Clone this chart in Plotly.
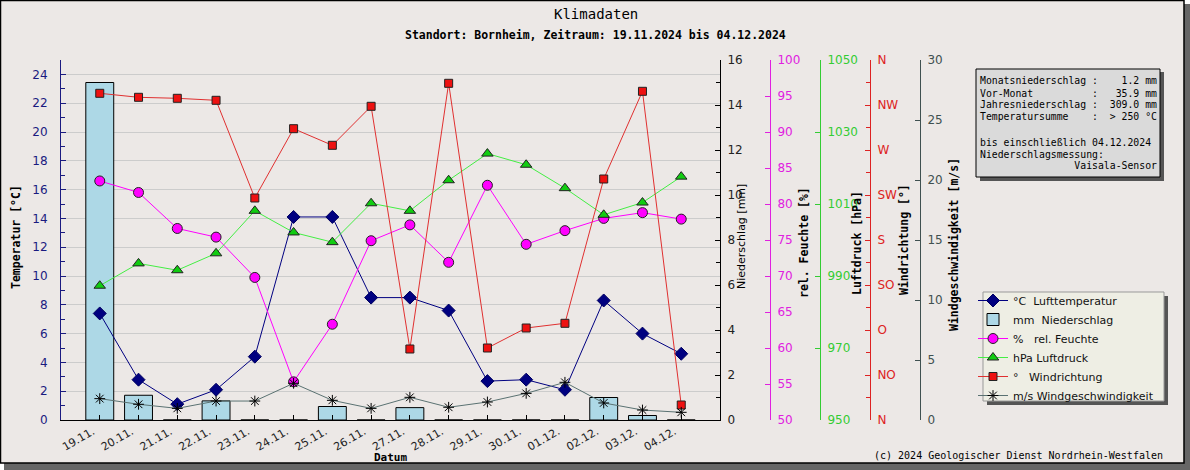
import plotly.graph_objects as go

# ── Data ──────────────────────────────────────────────────────────────────────
dates = ["19.11.", "20.11.", "21.11.", "22.11.", "23.11.", "24.11.", "25.11.", "26.11.",
         "27.11.", "28.11.", "29.11.", "30.11.", "01.12.", "02.12.", "03.12.", "04.12."]
temperature = [7.4, 2.8, 1.1, 2.1, 4.4, 14.1, 14.1, 8.5, 8.5, 7.6, 2.7, 2.8, 2.1, 8.3, 6.0, 4.6]
precip = [15.0, 1.1, 0.0, 0.85, 0.0, 0.0, 0.6, 0.0, 0.55, 0.0, 0.0, 0.0, 0.0, 1.0, 0.2, 0.0]
humidity = [83.2, 81.6, 76.6, 75.4, 69.8, 55.3, 63.3, 74.9, 77.1, 71.9, 82.6, 74.4, 76.3, 78.0, 78.8, 77.9]
pressure = [987.3, 993.5, 991.6, 996.3, 1008.1, 1002.1, 999.4, 1010.2, 1008.1, 1016.6,
            1024.0, 1020.9, 1014.4, 1007.0, 1010.4, 1017.6]
wind_dir = [326.7, 322.7, 321.7, 319.7, 222, 291.3, 274.7, 313.7, 71, 336.7, 72, 92, 96.7, 241, 328.7, 15]
wind_speed = [1.78, 1.31, 0.97, 1.58, 1.58, 3.06, 1.64, 0.97, 1.89, 1.06, 1.5, 2.22, 3.14, 1.42, 0.83, 0.64]

dir_vals = [0, 45, 90, 135, 180, 225, 270, 315, 360]
dir_text = ["N", "NO", "O", "SO", "S", "SW", "W", "NW", "N"]

info_lines = [
    "Monatsniederschlag :    1.2 mm",
    "Vor-Monat          :   35.9 mm",
    "Jahresniederschlag :  309.0 mm",
    "Temperatursumme    :  > 250 °C",
    "",
    "bis einschließlich 04.12.2024",
    "Niederschlagsmessung:",
    "                Vaisala-Sensor",
]

W, H = 1190, 470
xs = list(range(len(dates)))


def px(x):
    return x / W


def py(y):
    return 1 - y / H


def nb(s):
    return s.replace(" ", "\u00a0")


MONO = "DejaVu Sans Mono"
SANS = "DejaVu Sans"
NAVY = "#1a1a80"
MAG = "#e020e0"
GRN = "#33cc33"
RED = "#dd2222"
SLATE = "#3f5050"

fig = go.Figure()

# ── Temperature ───────────────────────────────────────────────────────────────
fig.add_trace(go.Scatter(
    x=xs, y=temperature, yaxis="y2", name=nb("°C  Lufttemperatur"),
    mode="lines+markers",
    line=dict(color="#000080", width=1),
    marker=dict(symbol="diamond", size=10, color="#000080", line=dict(color="#000060", width=1)),
))

# ── Precipitation bars (base subplot so they sit below everything) ────────────
fig.add_trace(go.Bar(
    x=xs, y=precip, yaxis="y", name=nb("mm  Niederschlag"),
    width=0.72,
    marker=dict(color="#add8e6", line=dict(color="black", width=1)),
))

# ── Humidity ──────────────────────────────────────────────────────────────────
fig.add_trace(go.Scatter(
    x=xs, y=humidity, yaxis="y3", name=nb("%   rel. Feuchte"),
    mode="lines+markers",
    line=dict(color="#ff00ff", width=1),
    marker=dict(symbol="circle", size=10, color="#ff00ff", line=dict(color="#222", width=1)),
))

# ── Pressure ──────────────────────────────────────────────────────────────────
fig.add_trace(go.Scatter(
    x=xs, y=pressure, yaxis="y4", name=nb("hPa Luftdruck"),
    mode="lines+markers",
    line=dict(color="#44ee44", width=1),
    marker=dict(symbol="triangle-up", size=10, color="#11cc11", line=dict(color="#222", width=1)),
))

# ── Wind direction ────────────────────────────────────────────────────────────
fig.add_trace(go.Scatter(
    x=xs, y=wind_dir, yaxis="y5", name=nb("°   Windrichtung"),
    mode="lines+markers",
    line=dict(color="#e03030", width=1),
    marker=dict(symbol="square", size=8, color="#ee1111", line=dict(color="#222", width=1)),
))

# ── Wind speed ────────────────────────────────────────────────────────────────
fig.add_trace(go.Scatter(
    x=xs, y=wind_speed, yaxis="y6", name=nb("m/s Windgeschwindigkeit"),
    mode="lines+markers",
    line=dict(color="#5a7272", width=1),
    marker=dict(symbol="asterisk-open", size=9, color="black", line=dict(color="black", width=1)),
))

# ── Axes ──────────────────────────────────────────────────────────────────────
ydom = [py(420), py(60)]


def right_axis(color, rng, pos, **kw):
    d = dict(
        range=rng, overlaying="y", anchor="free", position=pos, side="right",
        showgrid=False, zeroline=False, showline=True, linecolor=color, linewidth=1,
        ticks="inside", ticklen=5, tickcolor=color, ticklabelstandoff=4,
        tickfont=dict(family=SANS, size=12, color=color),
    )
    d.update(kw)
    return d


fig.update_layout(
    width=W, height=H,
    margin=dict(l=0, r=0, t=0, b=0, autoexpand=False),
    paper_bgcolor="white",
    plot_bgcolor="white",
    barmode="overlay",
    showlegend=True,
    xaxis=dict(
        domain=[px(61), px(720)], range=[-1, 16],
        tickmode="array", tickvals=xs, ticktext=dates, tickangle=-30,
        ticks="inside", ticklen=5, tickcolor="black", ticklabelshift=-7,
        showgrid=False, zeroline=False, showline=True, linecolor="black", linewidth=1,
        tickfont=dict(family=SANS, size=11, color="#222"),
    ),
    yaxis=dict(
        domain=ydom, range=[0, 16], side="right", anchor="x",
        dtick=2, tick0=0, showgrid=False, zeroline=False,
        showline=True, linecolor="black", linewidth=1,
        ticks="inside", ticklen=5, tickcolor="black", ticklabelstandoff=4,
        minor=dict(ticks="inside", ticklen=4, dtick=1, tickcolor="black"),
        tickfont=dict(family=SANS, size=12, color="#222"),
    ),
    yaxis2=dict(
        range=[0, 25], overlaying="y", side="left", anchor="x",
        dtick=2, tick0=0, showgrid=True, gridcolor="#cccccc", gridwidth=1, zeroline=False,
        showline=True, linecolor=NAVY, linewidth=1,
        ticks="inside", ticklen=5, tickcolor=NAVY, ticklabelstandoff=10,
        minor=dict(ticks="inside", ticklen=4, dtick=1, tickcolor=NAVY, showgrid=False),
        tickfont=dict(family=SANS, size=12, color=NAVY),
    ),
    yaxis3=right_axis(MAG, [50, 100], px(770), dtick=5, tick0=50),
    yaxis4=right_axis(GRN, [950, 1050], px(820), dtick=20, tick0=950),
    yaxis5=right_axis(RED, [0, 360], px(870), tickmode="array", tickvals=dir_vals, ticktext=dir_text,
                      minor=dict(ticks="inside", ticklen=4, tickcolor=RED,
                                 tickmode="array", tickvals=[22.5 + 45 * i for i in range(8)])),
    yaxis6=right_axis(SLATE, [0, 30], px(920), dtick=5, tick0=0),
    legend=dict(
        x=px(973), y=py(286), xanchor="left", yanchor="top",
        bgcolor="rgba(0,0,0,0)", borderwidth=0,
        font=dict(family=SANS, size=11, color="#111"),
        traceorder="normal", itemwidth=30,
    ),
)

# ── Frame, info box, legend box ───────────────────────────────────────────────
shapes = [
    dict(type="rect", xref="paper", yref="paper", x0=px(4), x1=px(1190), y0=py(470), y1=py(4),
         fillcolor="#666666", line=dict(width=0), layer="below"),
    dict(type="rect", xref="paper", yref="paper", x0=px(0.5), x1=px(1184), y0=py(463), y1=py(0.5),
         fillcolor="#ece8e6", line=dict(color="black", width=1.5), layer="below"),
    dict(type="rect", xref="paper", yref="paper", x0=px(980), x1=px(1164), y0=py(181), y1=py(72),
         fillcolor="#555555", line=dict(width=0), layer="below"),
    dict(type="rect", xref="paper", yref="paper", x0=px(976), x1=px(1160), y0=py(177), y1=py(69),
         fillcolor="#dadada", line=dict(color="black", width=1), layer="below"),
    dict(type="rect", xref="paper", yref="paper", x0=px(987), x1=px(1168), y0=py(405), y1=py(296),
         fillcolor="#555555", line=dict(width=0), layer="below"),
    dict(type="rect", xref="paper", yref="paper", x0=px(983), x1=px(1164), y0=py(401), y1=py(292),
         fillcolor="#eeeee4", line=dict(color="#999999", width=1), layer="below"),
]
fig.update_layout(shapes=shapes)


def label(text, x, y, fam, size, **kw):
    d = dict(text=text, x=px(x), y=py(y), xref="paper", yref="paper", showarrow=False,
             xanchor="center", yanchor="middle", font=dict(family=fam, size=size, color="black"))
    d.update(kw)
    return d


ann = [
    label("Klimadaten", 596, 14, MONO, 14),
    label("<b>Standort: Bornheim, Zeitraum: 19.11.2024 bis 04.12.2024</b>", 595, 35, MONO, 11.5),
    label("<b>Datum</b>", 390, 457, MONO, 11),
    label("(c) 2024 Geologischer Dienst Nordrhein-Westfalen", 1165, 455, MONO, 10, xanchor="right"),
]

# rotated axis titles
titles = [
    ("<b>Temperatur [°C]</b>", 16, 237, MONO, 11.5),
    ("Niederschlag [mm]", 741, 237, SANS, 11),
    ("<b>rel. Feuchte [%]</b>", 804, 243, MONO, 11.5),
    ("<b>Luftdruck [hPa]</b>", 857, 243, MONO, 11.5),
    ("<b>Windrichtung [°]</b>", 904, 240, MONO, 11.5),
    ("<b>Windgeschwindigkeit [m/s]</b>", 954, 245, MONO, 11.5),
]
for txt, tx, ty, fam, sz in titles:
    ann.append(label(txt, tx, ty, fam, sz, textangle=-90))

# info box lines
line_y = [81, 93, 104.5, 116, 128, 142.5, 154.5, 166]
for txt, ly in zip(info_lines, line_y):
    if txt:
        ann.append(label(nb(txt), 978, ly, MONO, 9.8, xanchor="left"))

fig.update_layout(annotations=ann)

fig.write_html("out.html", config={"displayModeBar": False},
               post_script="document.body.style.margin='0';")
